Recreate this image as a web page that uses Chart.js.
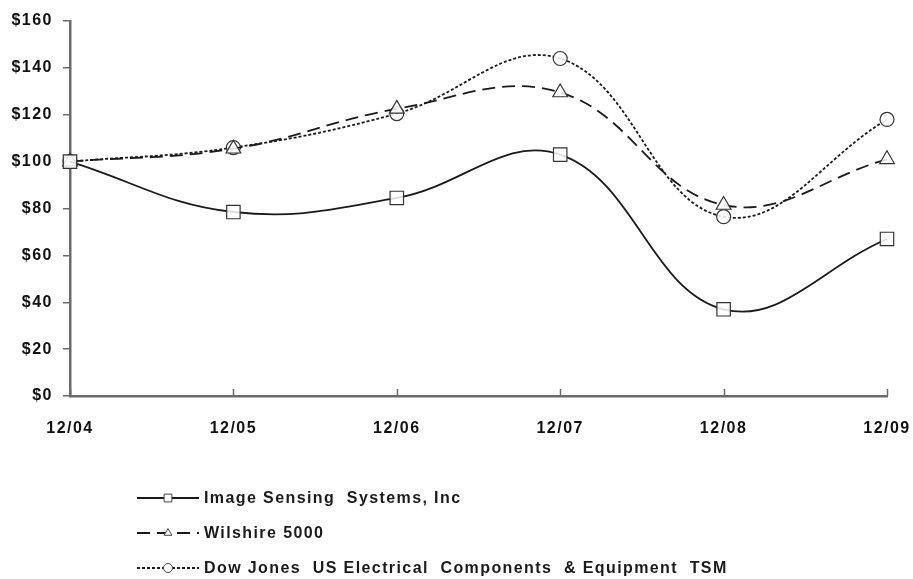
<!DOCTYPE html>
<html>
<head>
<meta charset="utf-8">
<script src="https://cdn.jsdelivr.net/npm/chart.js@4/dist/chart.umd.min.js"></script>
<style>
html,body{margin:0;padding:0;background:#fff;}
#wrap{width:913px;height:579px;position:relative;}
</style>
</head>
<body>
<div id="wrap"><canvas id="c" width="913" height="579"></canvas></div>
<script>
const categories = ["12/04", "12/05", "12/06", "12/07", "12/08", "12/09"];
const imageSensing = [100, 78.5, 84.5, 103, 37, 67];
const wilshire5000 = [100, 105.5, 122.5, 129.5, 81.5, 101];
const dowJonesElec = [100, 106, 120.5, 144, 76.5, 118];
const yTicks = [0, 20, 40, 60, 80, 100, 120, 140, 160];
const seriesNames = ["Image Sensing  Systems, Inc", "Wilshire 5000", "Dow Jones  US Electrical  Components  & Equipment  TSM"];

const INK = '#1a1a1a';
const AXIS = '#6a6a6a';
const FONT = {family: '"Liberation Sans", Arial, sans-serif', size: 16, weight: 'bold'};

const legendPlugin = {
  id: 'customLegend',
  afterDraw(chart) {
    const ctx = chart.ctx;
    const rows = [498, 533, 568];
    chart.data.datasets.forEach((ds, i) => {
      const y = rows[i];
      ctx.save();
      ctx.strokeStyle = INK;
      ctx.lineWidth = 1.8;
      ctx.setLineDash(ds.borderDash || []);
      ctx.beginPath();
      ctx.moveTo(137, y);
      ctx.lineTo(199, y);
      ctx.stroke();
      ctx.setLineDash([]);
      ctx.fillStyle = '#fff';
      ctx.lineWidth = 1;
      ctx.strokeStyle = '#444';
      Chart.helpers.drawPoint(ctx, {pointStyle: ds.pointStyle, radius: ds.pointStyle === 'rect' ? 5.5 : 4.5, borderWidth: 1}, 168, y);
      ctx.fillStyle = '#1a1a1a';
      ctx.font = 'bold 16px "Liberation Sans", Arial, sans-serif';
      ctx.letterSpacing = '1.4px';
      ctx.textBaseline = 'middle';
      ctx.textAlign = 'left';
      ctx.fillText(ds.label, 204, y + 1);
      ctx.restore();
    });
  }
};

const xTickPlugin = {
  id: 'xInnerTicks',
  afterDatasetsDraw(chart) {
    const ctx = chart.ctx;
    const xs = chart.scales.x;
    const bottom = chart.chartArea.bottom;
    ctx.save();
    ctx.strokeStyle = AXIS;
    ctx.lineWidth = 1.5;
    for (let i = 0; i < categories.length; i++) {
      const px = Math.round(xs.getPixelForValue(i)) + 0.5;
      ctx.beginPath();
      ctx.moveTo(px, bottom);
      ctx.lineTo(px, bottom - 7);
      ctx.stroke();
    }
    ctx.restore();
  }
};

const spacingPlugin = {
  id: 'spacing',
  beforeDraw(chart) { chart.ctx.letterSpacing = '1.5px'; }
};

new Chart(document.getElementById('c'), {
  type: 'line',
  data: {
    labels: categories,
    datasets: [
      {label: seriesNames[0], data: imageSensing, borderColor: INK, borderWidth: 1.8, borderDash: [],
       pointStyle: 'rect', pointRadius: 9.5, pointBorderWidth: 1.2, pointBorderColor: '#333', pointBackgroundColor: 'rgba(255,255,255,0.85)', tension: 0.4},
      {label: seriesNames[1], data: wilshire5000, borderColor: INK, borderWidth: 1.8, borderDash: [13, 7],
       pointStyle: 'triangle', pointRadius: 8.5, pointBorderWidth: 1.2, pointBorderColor: '#333', pointBackgroundColor: 'rgba(255,255,255,0.85)', tension: 0.4},
      {label: seriesNames[2], data: dowJonesElec, borderColor: INK, borderWidth: 1.8, borderDash: [3, 2],
       pointStyle: 'circle', pointRadius: 7, pointBorderWidth: 1.2, pointBorderColor: '#333', pointBackgroundColor: 'rgba(255,255,255,0.85)', tension: 0.4}
    ]
  },
  options: {
    responsive: false,
    animation: false,
    layout: {padding: {left: 0, right: 26, top: 21, bottom: 138}},
    plugins: {legend: {display: false}, tooltip: {enabled: false}},
    scales: {
      x: {
        offset: false,
        grid: {display: true, drawOnChartArea: false, drawTicks: false, color: AXIS},
        border: {display: true, color: AXIS, width: 2.5},
        ticks: {color: '#111', font: FONT, padding: 23, maxRotation: 0, autoSkip: false},
        afterFit(s) { s.height = 45; s.paddingLeft = 0; s.paddingRight = 0; }
      },
      y: {
        min: 0, max: 160,
        afterBuildTicks(s) { s.ticks = yTicks.map(v => ({value: v})); },
        grid: {display: true, drawOnChartArea: false, drawTicks: true, tickLength: 7, color: AXIS, lineWidth: 1.5},
        border: {display: true, color: AXIS, width: 2.5},
        ticks: {color: '#111', font: FONT, padding: 10, callback: v => '$' + v},
        afterFit(s) { s.width = 70; s.paddingTop = 0; s.paddingBottom = 0; }
      }
    }
  },
  plugins: [spacingPlugin, xTickPlugin, legendPlugin]
});
</script>
</body>
</html>
